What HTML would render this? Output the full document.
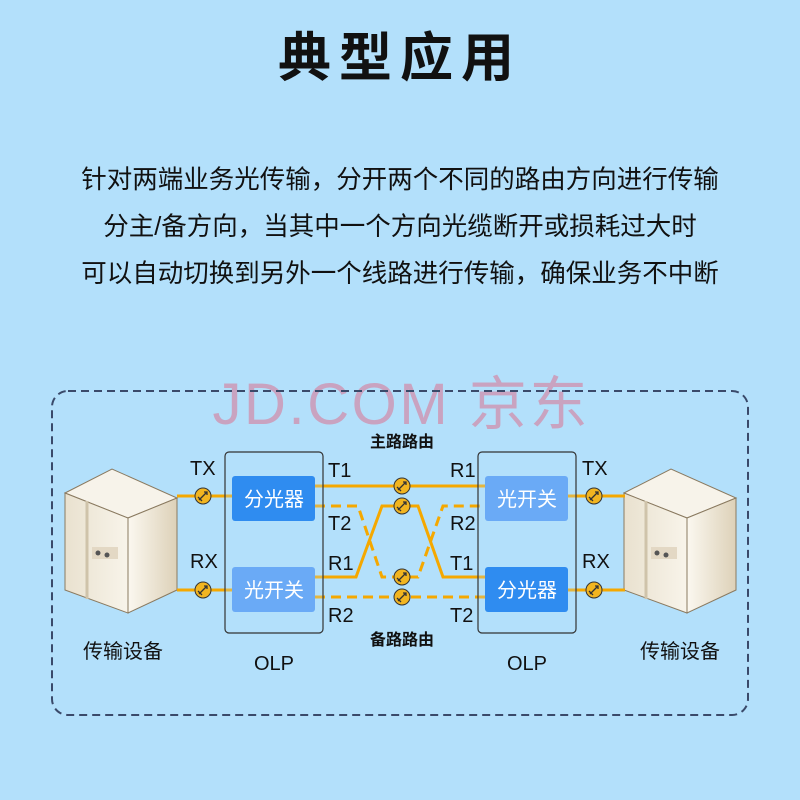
<!DOCTYPE html>
<html><head><meta charset="utf-8"><style>
body{margin:0;width:800px;height:800px;background:#b3e0fb;overflow:hidden;font-family:"Liberation Sans","Noto Sans CJK SC",sans-serif}
</style></head><body>
<svg width="800" height="800" xmlns="http://www.w3.org/2000/svg" style="position:absolute;left:0;top:0" font-family="Liberation Sans, Noto Sans CJK SC, sans-serif">
<defs>
<linearGradient id="sv" x1="0" y1="0" x2="1" y2="0"><stop offset="0" stop-color="#e9e1cf"/><stop offset="1" stop-color="#f8f4ea"/></linearGradient>
<linearGradient id="sv2" x1="0" y1="0" x2="1" y2="0"><stop offset="0" stop-color="#fbf8f0"/><stop offset="1" stop-color="#ddd1b8"/></linearGradient>
<g id="srv">
<polygon points="0,24 47,0 112,29 63,49" fill="#f7f3ea" stroke="#8a7a60" stroke-width="1"/>
<polygon points="0,24 63,49 63,144 0,121" fill="url(#sv)" stroke="#8a7a60" stroke-width="1"/>
<polygon points="63,49 112,29 112,121 63,144" fill="url(#sv2)" stroke="#8a7a60" stroke-width="1"/>
<line x1="22" y1="32" x2="22" y2="130" stroke="#cfc3aa" stroke-width="3"/>
<rect x="27" y="78" width="26" height="12" fill="#e3d8c4"/>
<circle cx="33" cy="84" r="2.5" fill="#555"/><circle cx="42" cy="86" r="2.5" fill="#555"/>
</g>
<g id="cn"><circle r="8" fill="#f2b520" stroke="#333" stroke-width="1"/><path d="M-4,4 L4,-4 M1,-4 L4,-4 L4,-1 M-5,1 L-1,5" stroke="#333" stroke-width="1.3" fill="none"/></g>
</defs>
<text x="400" y="76" text-anchor="middle" font-size="53" font-weight="bold" letter-spacing="8" fill="#111">典型应用</text>
<g font-size="25.5" fill="#111" text-anchor="middle">
<text x="400" y="188">针对两端业务光传输，分开两个不同的路由方向进行传输</text>
<text x="400" y="235">分主/备方向，当其中一个方向光缆断开或损耗过大时</text>
<text x="400" y="282">可以自动切换到另外一个线路进行传输，确保业务不中断</text>
</g>
<text x="400" y="424" text-anchor="middle" font-size="58" fill="#c9a3c0" textLength="375">JD.COM 京东</text>
<rect x="52" y="391" width="696" height="324" rx="16" fill="none" stroke="#3a4a6a" stroke-width="2" stroke-dasharray="8,5"/>
<use href="#srv" x="65" y="469"/>
<use href="#srv" x="624" y="469"/>
<g stroke="#f5a800" stroke-width="3" fill="none">
<line x1="177" y1="496" x2="232" y2="496"/><line x1="177" y1="590" x2="232" y2="590"/>
<line x1="568" y1="496" x2="625" y2="496"/><line x1="568" y1="590" x2="625" y2="590"/>
<line x1="315" y1="486" x2="485" y2="486"/>
<polyline points="315,577 356,577 382,506 418,506 443,577 485,577"/>
<g stroke-dasharray="10,6"><polyline points="315,506 358,506 382,577 418,577 443,506 485,506"/>
<line x1="315" y1="597" x2="485" y2="597"/></g>
</g>
<g fill="#b3e0fb" fill-opacity="0.25" stroke="#333" stroke-width="1.2">
<rect x="225" y="452" width="98" height="181" rx="4"/><rect x="478" y="452" width="98" height="181" rx="4"/></g>
<rect x="232" y="476" width="83" height="45" rx="3" fill="#2f8cf0"/>
<rect x="232" y="567" width="83" height="45" rx="3" fill="#6aaaf6"/>
<rect x="485" y="476" width="83" height="45" rx="3" fill="#6aaaf6"/>
<rect x="485" y="567" width="83" height="45" rx="3" fill="#2f8cf0"/>
<g fill="#fff" font-size="20" text-anchor="middle">
<text x="274" y="506">分光器</text><text x="274" y="597">光开关</text>
<text x="527" y="506">光开关</text><text x="527" y="597">分光器</text></g>
<use href="#cn" x="203" y="496"/><use href="#cn" x="203" y="590"/>
<use href="#cn" x="594" y="496"/><use href="#cn" x="594" y="590"/>
<use href="#cn" x="402" y="486"/><use href="#cn" x="402" y="506"/>
<use href="#cn" x="402" y="577"/><use href="#cn" x="402" y="597"/>
<g font-size="20" fill="#111">
<text x="190" y="475">TX</text><text x="190" y="568">RX</text>
<text x="582" y="475">TX</text><text x="582" y="568">RX</text>
<text x="328" y="477">T1</text><text x="328" y="530">T2</text><text x="328" y="570">R1</text><text x="328" y="622">R2</text>
<text x="450" y="477">R1</text><text x="450" y="530">R2</text><text x="450" y="570">T1</text><text x="450" y="622">T2</text>
<text x="274" y="670" text-anchor="middle">OLP</text><text x="527" y="670" text-anchor="middle">OLP</text>
<text x="123" y="658" text-anchor="middle">传输设备</text><text x="680" y="658" text-anchor="middle">传输设备</text>
</g>
<g font-size="16" font-weight="bold" fill="#111" text-anchor="middle">
<text x="402" y="447">主路路由</text><text x="402" y="645">备路路由</text></g>
</svg>
</body></html>
